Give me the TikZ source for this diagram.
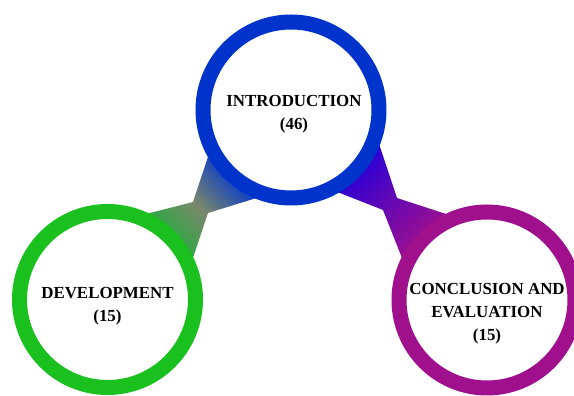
\documentclass[tikz,border=0pt]{standalone}
\usepackage{fontspec}
\setmainfont{Liberation Serif}
\usepackage{tikz}
\definecolor{introblue}{RGB}{0,51,204}
\definecolor{devgreen}{RGB}{25,192,30}
\definecolor{linkgreen}{RGB}{34,172,60}
\definecolor{linkgray}{RGB}{122,136,108}
\definecolor{linkblue}{RGB}{10,60,200}
\definecolor{conpurple}{RGB}{160,16,140}
\definecolor{conviolet}{RGB}{48,0,210}
\definecolor{linkmid}{RGB}{108,8,176}
\pgfdeclarehorizontalshading{devlink}{100bp}{color(0bp)=(linkgreen); color(37bp)=(linkgreen); color(50bp)=(linkgray); color(63bp)=(linkblue); color(100bp)=(linkblue)}
\pgfdeclarehorizontalshading{conlink}{100bp}{color(0bp)=(conpurple); color(37bp)=(conpurple); color(50bp)=(linkmid); color(63bp)=(conviolet); color(100bp)=(conviolet)}
\tikzset{
  font={\fontsize{16.9pt}{23pt}\selectfont\bfseries}}

\begin{document}
\begin{tikzpicture}[x=1pt,y=1pt]
\tikzstyle{topic}=[circle,draw,fill=white,line width=15pt,minimum size=176pt,inner sep=0pt]
\tikzstyle{caption}=[align=center,inner sep=0pt]
\useasboundingbox (0,0) rectangle (574,396);
\clip (0,0) rectangle (574,396);
\coordinate (la) at (223,284);
\coordinate (lw) at (193,194);
\coordinate (lb) at (107,172);
\coordinate (lc) at (178,93);
\coordinate (lv) at (208,183);
\coordinate (ld) at (292,209);
\coordinate (ra) at (367,288);
\coordinate (rw) at (397,198);
\coordinate (rb) at (489,168);
\coordinate (rc) at (421,90);
\coordinate (rv) at (383,186);
\coordinate (rd) at (297,220);
\shade [shading=devlink,shading angle=43] (la) -- (lw) -- (lb) -- (lc) -- (lv) -- (ld) -- cycle;
\shade [shading=conlink,shading angle=135] (ra) -- (rw) -- (rb) -- (rc) -- (rv) -- (rd) -- cycle;
\node [topic,draw=introblue] (intro) at (291,286) {};
\node [topic,draw=devgreen] (devel) at (107.5,96.5) {};
\node [topic,draw=conpurple] (concl) at (487,96) {};
\node [caption] (introtext) at (294,281.5) {INTRODUCTION\\(46)};
\node [caption] (develtext) at (107.5,89.5) {DEVELOPMENT\\(15)};
\node [caption] (concltext) at (487,82) {CONCLUSION AND\\EVALUATION\\(15)};
\end{tikzpicture}
\end{document}
